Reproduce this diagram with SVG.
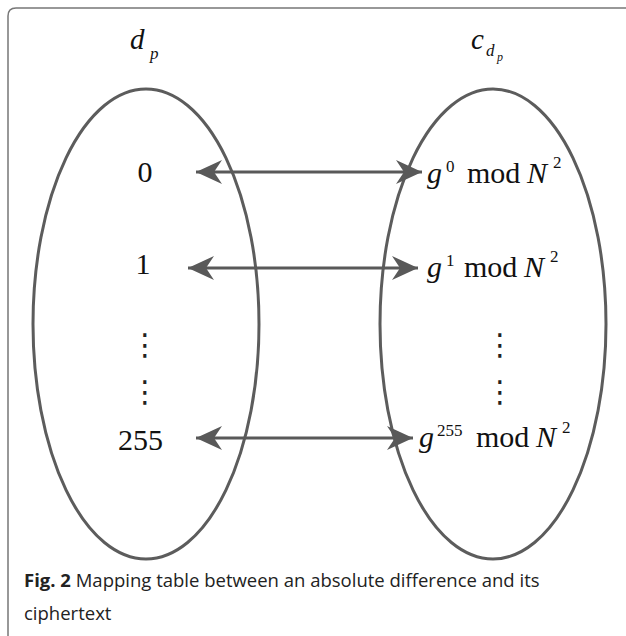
<svg xmlns="http://www.w3.org/2000/svg" width="626" height="636" viewBox="0 0 626 636">
  <defs>
    <marker id="ah" viewBox="-28 -13 30 26" markerUnits="userSpaceOnUse" markerWidth="30" markerHeight="26" refX="0" refY="0" orient="auto-start-reverse">
      <path d="M0,0 L-26,-12 L-18,0 L-26,12 Z" fill="#595959"/>
    </marker>
  </defs>
  <style>
    .ell { fill: none; stroke: #5c5c5c; stroke-width: 3; }
    .conn { fill: none; stroke: #595959; stroke-width: 3; }
    .num { font-family: "Liberation Serif", "Times New Roman", serif; font-size: 30px; fill: #111; }
    .it { font-style: italic; }
    .sup { font-size: 17px; }
    .head { font-size: 29px; }
    .ss { font-size: 12px; }
    .dots { font-family: "DejaVu Sans", sans-serif; font-size: 30px; fill: #222; text-anchor: middle; }
    .cap { font-family: "Open Sans", "Noto Sans", sans-serif; font-size: 18.5px; fill: #222; }
    .frame { fill: none; stroke: #777; stroke-width: 1.5; }
  </style>
  <rect width="626" height="636" fill="#fff"/>
  <path class="frame" d="M8,636 V16 Q8,8 16,8 H626"/>

  <g id="set-dp">
    <ellipse class="ell" cx="146" cy="324" rx="113" ry="235"/>
    <text class="num it head" x="130" y="49">d</text>
    <text class="num it sup" x="150" y="59">p</text>
  </g>
  <g id="set-cdp">
    <ellipse class="ell" cx="493" cy="324" rx="113" ry="235"/>
    <text class="num it head" x="471" y="49">c</text>
    <text class="num it sup" x="486" y="56">d</text>
    <text class="num it ss" x="497" y="61">p</text>
  </g>

  <g id="n-0"><text class="num" x="145" y="182" text-anchor="middle">0</text></g>
  <g id="n-1"><text class="num" x="143" y="274" text-anchor="middle">1</text></g>
  <g id="n-dots-l">
    <text class="dots" x="145" y="355">⋮</text>
    <text class="dots" x="145" y="402">⋮</text>
  </g>
  <g id="n-255"><text class="num" x="140.5" y="450" text-anchor="middle">255</text></g>

  <g id="c-0"><text class="num"><tspan class="it" x="427" y="183">g</tspan><tspan class="sup" x="446" y="172">0</tspan><tspan x="467" y="183">mod</tspan><tspan class="it" x="527" y="183">N</tspan><tspan class="sup" x="553" y="168">2</tspan></text></g>
  <g id="c-1"><text class="num"><tspan class="it" x="427" y="277">g</tspan><tspan class="sup" x="446" y="266">1</tspan><tspan x="464" y="277">mod</tspan><tspan class="it" x="524" y="277">N</tspan><tspan class="sup" x="550" y="262">2</tspan></text></g>
  <g id="n-dots-r">
    <text class="dots" x="500" y="355">⋮</text>
    <text class="dots" x="500" y="402">⋮</text>
  </g>
  <g id="c-255"><text class="num"><tspan class="it" x="419" y="447">g</tspan><tspan class="sup" x="437" y="436">255</tspan><tspan x="476" y="447">mod</tspan><tspan class="it" x="536" y="447">N</tspan><tspan class="sup" x="562" y="433">2</tspan></text></g>

  <g id="connectors">
    <line class="conn" x1="196" y1="172" x2="422" y2="172" marker-start="url(#ah)" marker-end="url(#ah)"/>
    <line class="conn" x1="188" y1="268" x2="418" y2="268" marker-start="url(#ah)" marker-end="url(#ah)"/>
    <line class="conn" x1="196" y1="438" x2="413" y2="438" marker-start="url(#ah)" marker-end="url(#ah)"/>
  </g>

  <g id="caption">
    <text class="cap" x="24" y="587"><tspan font-weight="bold">Fig. 2</tspan> Mapping table between an absolute difference and its</text>
    <text class="cap" x="24" y="620">ciphertext</text>
  </g>
</svg>
